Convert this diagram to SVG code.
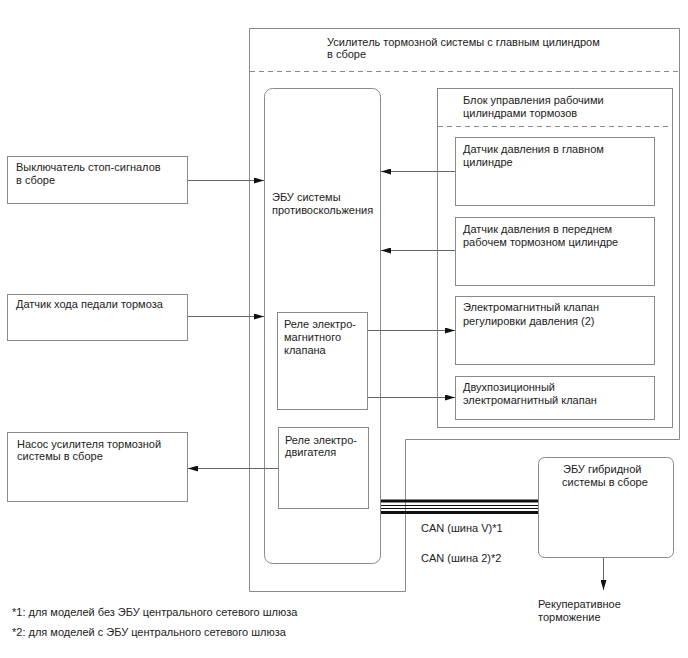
<svg xmlns="http://www.w3.org/2000/svg" width="688" height="658" viewBox="0 0 688 658">
<defs>
<marker id="ah" markerUnits="userSpaceOnUse" markerWidth="10" markerHeight="6" refX="10" refY="3" orient="auto">
<path d="M0,0 L10,3 L0,6 Z" fill="#111"/>
</marker>
<style>
.box{fill:#fff;stroke:#8a8a8a;stroke-width:1}
.dash{fill:none;stroke:#8a8a8a;stroke-width:1;stroke-dasharray:5,4}
.t{font-family:"Liberation Sans",Arial,sans-serif;font-size:11px;fill:#222}
.ln{fill:none;stroke:#666;stroke-width:1;marker-end:url(#ah)}
</style>
</defs>
<rect width="688" height="658" fill="#fff"/>

<g id="booster">
<path class="box" d="M249.5,28.5 H679.5 V439.5 H405.5 V591.5 H249.5 Z"/>
<line class="dash" x1="250" y1="71.5" x2="679" y2="71.5"/>
<text class="t" x="327" y="46">Усилитель тормозной системы с главным цилиндром</text>
<text class="t" x="327" y="58">в сборе</text>
</g>

<g id="abs-ecu">
<rect class="box" x="264.5" y="88.5" width="116" height="475" rx="8"/>
<text class="t" x="272" y="201">ЭБУ системы</text>
<text class="t" x="272" y="214">противоскольжения</text>
</g>

<g id="actuator">
<rect class="box" x="437.5" y="88.5" width="235" height="339"/>
<line class="dash" x1="438" y1="126.5" x2="672" y2="126.5"/>
<text class="t" x="463" y="104">Блок управления рабочими</text>
<text class="t" x="463" y="117">цилиндрами тормозов</text>
</g>

<g id="master-sensor">
<rect class="box" x="455.5" y="137.5" width="199" height="68"/>
<text class="t" x="463" y="153">Датчик давления в главном</text>
<text class="t" x="463" y="166">цилиндре</text>
</g>

<g id="front-sensor">
<rect class="box" x="455.5" y="217.5" width="199" height="68"/>
<text class="t" x="463" y="233">Датчик давления в переднем</text>
<text class="t" x="463" y="246">рабочем тормозном цилиндре</text>
</g>

<g id="pressure-valve">
<rect class="box" x="455.5" y="296.5" width="199" height="68"/>
<text class="t" x="463" y="311">Электромагнитный клапан</text>
<text class="t" x="463" y="325">регулировки давления (2)</text>
</g>

<g id="two-pos-valve">
<rect class="box" x="455.5" y="376.5" width="199" height="43"/>
<text class="t" x="463" y="391">Двухпозиционный</text>
<text class="t" x="463" y="404">электромагнитный клапан</text>
</g>

<g id="stop-switch">
<rect class="box" x="7.5" y="156.5" width="180" height="47"/>
<text class="t" x="16" y="171">Выключатель стоп-сигналов</text>
<text class="t" x="16" y="184">в сборе</text>
</g>

<g id="pedal-sensor">
<rect class="box" x="7.5" y="294.5" width="180" height="46"/>
<text class="t" x="16" y="308">Датчик хода педали тормоза</text>
</g>

<g id="solenoid-relay">
<rect class="box" x="277.5" y="312.5" width="90" height="97"/>
<text class="t" x="284" y="328">Реле электро-</text>
<text class="t" x="284" y="341">магнитного</text>
<text class="t" x="284" y="354">клапана</text>
</g>

<g id="motor-relay">
<rect class="box" x="278.5" y="427.5" width="90" height="81"/>
<text class="t" x="285" y="444">Реле электро-</text>
<text class="t" x="285" y="456">двигателя</text>
</g>

<g id="pump">
<rect class="box" x="7.5" y="432.5" width="180" height="69"/>
<text class="t" x="17" y="448">Насос усилителя тормозной</text>
<text class="t" x="17" y="460">системы в сборе</text>
</g>

<g id="hybrid-ecu">
<rect class="box" x="538.5" y="457.5" width="135" height="100" rx="6"/>
<text class="t" x="563" y="473">ЭБУ гибридной</text>
<text class="t" x="562" y="486">системы в сборе</text>
</g>

<g id="labels">
<text class="t" x="421" y="532">CAN (шина V)*1</text>
<text class="t" x="421" y="562">CAN (шина 2)*2</text>
<text class="t" x="538" y="608">Рекуперативное</text>
<text class="t" x="538" y="621">торможение</text>
<text class="t" x="12" y="616">*1: для моделей без ЭБУ центрального сетевого шлюза</text>
<text class="t" x="12" y="636">*2: для моделей с ЭБУ центрального сетевого шлюза</text>
</g>

<g id="connectors">
<line class="ln" x1="188" y1="180.5" x2="264" y2="180.5"/>
<line class="ln" x1="188" y1="316.5" x2="264" y2="316.5"/>
<line class="ln" x1="455" y1="171.5" x2="381" y2="171.5"/>
<line class="ln" x1="455" y1="250.5" x2="381" y2="250.5"/>
<line class="ln" x1="368" y1="330.5" x2="455" y2="330.5"/>
<line class="ln" x1="368" y1="397.5" x2="455" y2="397.5"/>
<line class="ln" x1="278" y1="468.5" x2="188" y2="468.5"/>
<line class="ln" x1="603.5" y1="558" x2="603.5" y2="590"/>
<g id="can-bus" stroke="#111">
<line x1="381" y1="501" x2="538" y2="501" stroke-width="3.2"/>
<line x1="381" y1="505.5" x2="538" y2="505.5" stroke-width="1"/>
<line x1="381" y1="508.5" x2="538" y2="508.5" stroke-width="1"/>
<line x1="381" y1="512.5" x2="538" y2="512.5" stroke-width="3.2"/>
</g>
</g>
</svg>
